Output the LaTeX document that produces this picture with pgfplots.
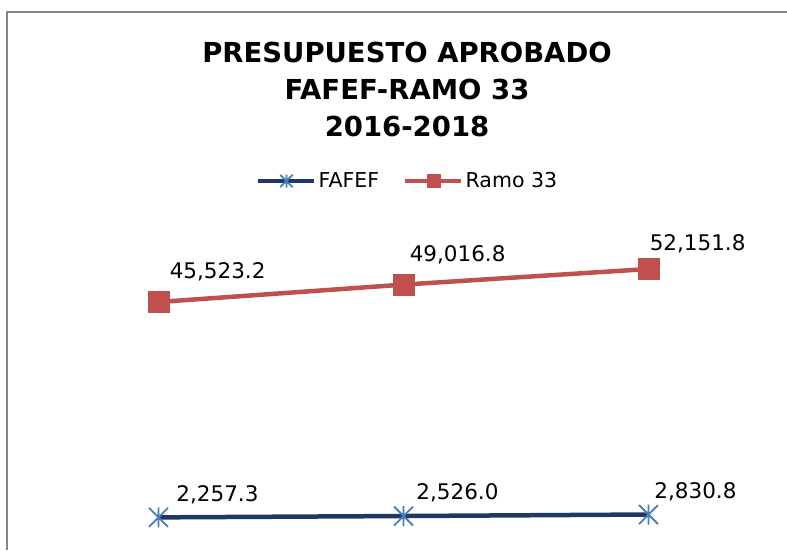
\documentclass[border=0pt]{standalone}
\usepackage{pgfplots}
\pgfplotsset{compat=1.18}
\usepackage{pgfplotstable}
\usepackage{fontspec}
\setmainfont{DejaVu Sans}
\definecolor{navy}{HTML}{1F3864}
\definecolor{starblue}{HTML}{4A7EBB}
\definecolor{ramored}{HTML}{C0504D}
\definecolor{bordergray}{HTML}{868686}
\pgfdeclareplotmark{xstar}{%
  \pgfpathmoveto{\pgfqpoint{0pt}{-\pgfplotmarksize}}%
  \pgfpathlineto{\pgfqpoint{0pt}{\pgfplotmarksize}}%
  \pgfpathmoveto{\pgfqpoint{-.95\pgfplotmarksize}{-.95\pgfplotmarksize}}%
  \pgfpathlineto{\pgfqpoint{.95\pgfplotmarksize}{.95\pgfplotmarksize}}%
  \pgfpathmoveto{\pgfqpoint{-.95\pgfplotmarksize}{.95\pgfplotmarksize}}%
  \pgfpathlineto{\pgfqpoint{.95\pgfplotmarksize}{-.95\pgfplotmarksize}}%
  \pgfusepathqstroke}
\pgfplotstableread{
x y dx dy
1 2257.3 17 16
2 2526.0 12 17
3 2830.8 5 16
}\fafef
\pgfplotstableread{
x y dx dy
1 45523.2 11 24
2 49016.8 6 23
3 52151.8 1 19
}\ramo
\begin{document}
\begin{tikzpicture}
\begin{axis}[
  at={(0,0)}, anchor=south west,
  scale only axis, width=787pt, height=550pt,
  hide axis, clip=false,
  xmin=0.353, xmax=3.5653,
  ymin=-4299, ymax=106196,
  legend columns=2,
  legend style={draw=none, fill=none, at={(256/787,369/550)}, anchor=west,
    inner sep=0pt, font=\fontsize{20.5}{24}\selectfont,
    nodes={inner sep=2pt},
    /tikz/every even column/.append style={column sep=22pt}},
  legend image code/.code={%
    \draw[#1, mark=none] (0pt,0pt) -- (56pt,0pt);
    \draw[#1, mark size=6.5pt] plot coordinates {(28pt,0pt)};
  },
  nodes near coords={\pgfmathprintnumber[fixed,fixed zerofill,precision=1,1000 sep={,},assume math mode=true]{\pgfplotspointmeta}},
  point meta=y,
  visualization depends on={\thisrow{dx} \as \dx},
  visualization depends on={\thisrow{dy} \as \dy},
  every node near coord/.append style={anchor=base west, inner sep=0pt,
    xshift=\dx*1pt, yshift=\dy*1pt, font=\fontsize{21.5}{24}\selectfont, text=black},
]
\addplot[navy, line width=4.5pt, mark=xstar, mark size=10pt,
  mark options={draw=starblue, line width=1.8pt, solid}]
  table[x=x,y=y] {\fafef};
\addlegendentry{FAFEF}
\addplot[ramored, line width=4.5pt, mark=square*, mark size=10.5pt,
  mark options={draw=ramored, fill=ramored, line width=0.5pt, solid}]
  table[x=x,y=y] {\ramo};
\addlegendentry{Ramo 33}
\end{axis}
\draw[bordergray, line width=1.5pt] (7pt,0pt) -- (7pt,538pt) -- (790pt,538pt);
\node[anchor=base, inner sep=0pt, font=\fontsize{27.5}{37}\bfseries] at (407pt,487pt) {PRESUPUESTO APROBADO};
\node[anchor=base, inner sep=0pt, font=\fontsize{27.5}{37}\bfseries] at (407pt,450pt) {FAFEF-RAMO 33};
\node[anchor=base, inner sep=0pt, font=\fontsize{27.5}{37}\bfseries] at (407pt,413pt) {2016-2018};
\pgfresetboundingbox
\useasboundingbox (0pt,0pt) rectangle (787pt,550pt);
\end{tikzpicture}
\end{document}
